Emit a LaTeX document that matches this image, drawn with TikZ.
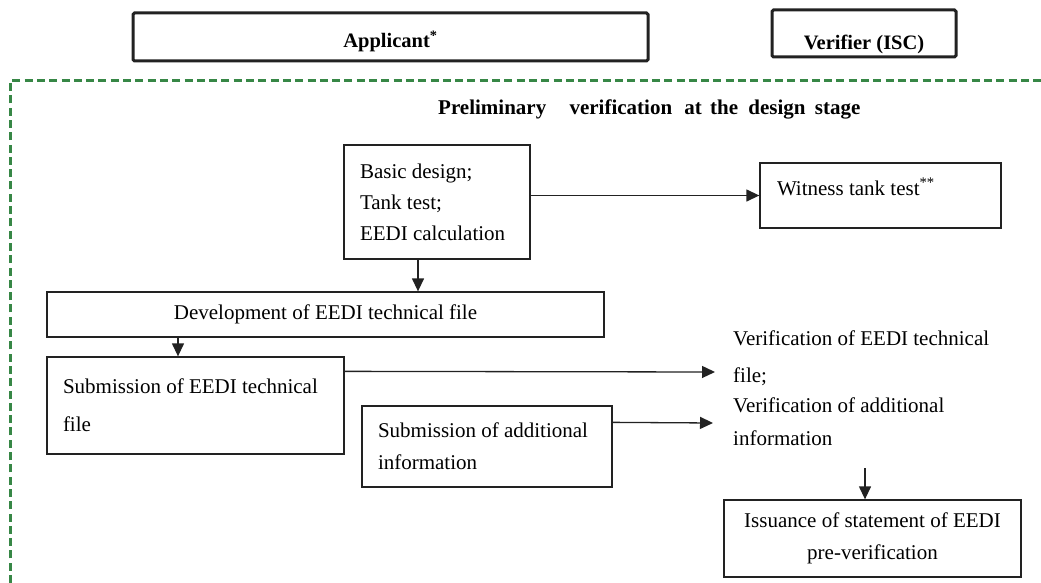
\documentclass[tikz,border=0pt]{standalone}
\usepackage{fontspec}
\setmainfont{Liberation Serif}
\usetikzlibrary{arrows.meta}
\definecolor{boxline}{RGB}{34,34,34}
\definecolor{dashgreen}{RGB}{55,135,70}
\tikzset{
  basefont/.style={font=\fontsize{21}{32}\selectfont},
  headbox/.style={draw=boxline, line width=3pt, rounded corners=1.5pt, inner sep=0pt,
    font=\fontsize{20.5}{24}\selectfont\bfseries, text depth=0pt},
  flowbox/.style={draw=boxline, line width=1.3pt, inner ysep=0pt, basefont},
  arr/.style={draw=boxline, line width=1.3pt, -{Triangle[length=13pt,width=12pt]}},
  frame/.style={draw=dashgreen, line width=3pt, dash pattern=on 8pt off 4.3pt}
}
\begin{document}
\begin{tikzpicture}[x=1pt,y=-1pt]
\useasboundingbox (0,0) rectangle (1041,583);
% dashed frame
\coordinate (fbl) at (10,583);
\coordinate (ftl) at (10,81);
\coordinate (ftr) at (1041,81);
\draw[frame] (fbl) -- (ftl) -- (ftr);
% header boxes
\node[headbox, minimum width=515, minimum height=48, text height=22pt] (app) at (390.5,37) {Applicant\textsuperscript{*}};
\node[headbox, minimum width=184, minimum height=47, text height=32pt] (ver) at (864,33.5) {Verifier (ISC)};
% title
\node[anchor=base west, inner sep=0pt, font=\fontsize{21}{24}\selectfont\bfseries] (title) at (438,115)
  {Preliminary\hspace{18pt} verification\hspace{7pt} at\hspace{3pt} the\hspace{5pt} design\hspace{4pt} stage};
% boxes
\node[flowbox, minimum width=186, minimum height=114, inner xsep=16pt, text width=154pt, align=flush left] (basic) at (437,202)
  {Basic design;\\[-1pt] Tank test;\\[-1pt] EEDI calculation};
\node[flowbox, minimum width=241, minimum height=65, inner xsep=17pt, text width=207pt, align=flush left, text height=14pt, text depth=14pt] (wit) at (880.5,195.5)
  {Witness tank test\textsuperscript{**}};
\node[flowbox, minimum width=557, minimum height=45] (dev) at (325.5,314.5)
  {Development of EEDI technical file};
\node[flowbox, minimum width=297, minimum height=97, inner xsep=16pt, text width=265pt, align=flush left] (sub) at (195.5,405.5)
  {Submission of EEDI technical\\[6pt] file};
\node[flowbox, minimum width=250, minimum height=81, inner xsep=16pt, text width=218pt, align=flush left] (add) at (487,446.5)
  {Submission of additional\\ information};
\node[anchor=west, inner sep=0pt, basefont, align=flush left] (verif) at (733,388)
  {Verification of EEDI technical\\[5pt] file;\\[-2pt] Verification of additional\\[1pt] information};
\node[flowbox, minimum width=297, minimum height=77, align=center] (iss) at (872.5,538.5)
  {Issuance of statement of EEDI\\ pre-verification};
% connectors
\coordinate (v1) at (715,372);
\coordinate (v2) at (713,423);
\coordinate (v3) at (865,468);
\draw[arr] (wit.west -| basic.east) -- (wit.west);
\draw[arr] ([xshift=-19pt]basic.south) -- ([xshift=-19pt]basic.south |- dev.north);
\draw[arr] ([xshift=-17.5pt]sub.north |- dev.south) -- ([xshift=-17.5pt]sub.north);
\draw[arr] ([yshift=-15pt]sub.north east) -- (v1);
\draw[arr] ([yshift=-17pt]add.north east) -- (v2);
\draw[arr] (v3) -- (v3 |- iss.north);
\end{tikzpicture}
\end{document}
